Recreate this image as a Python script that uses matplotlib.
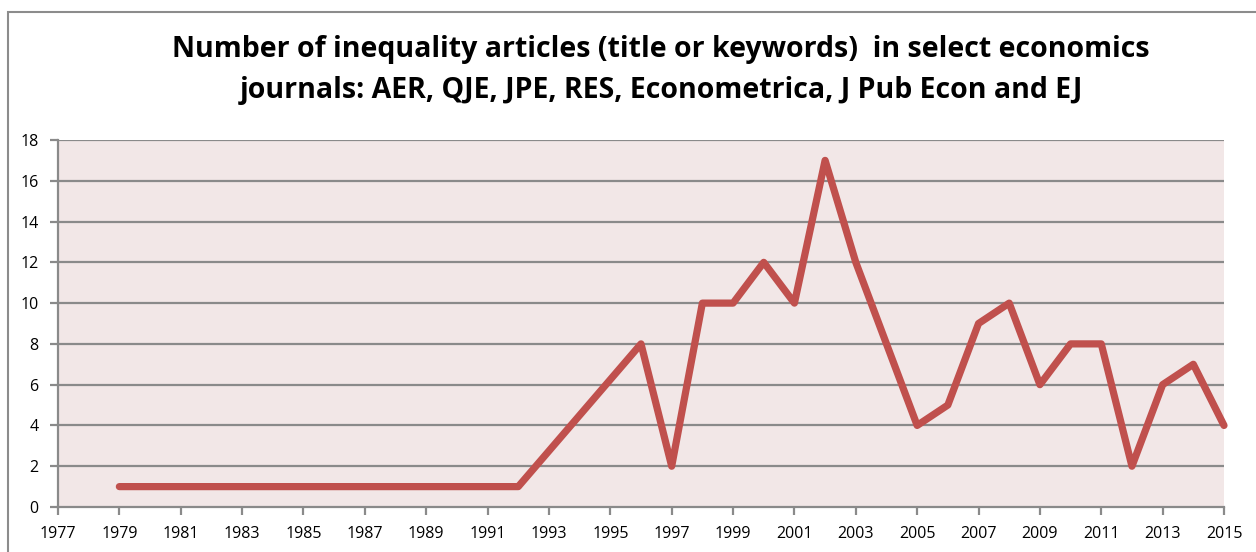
import matplotlib
matplotlib.use("Agg")
import matplotlib.pyplot as plt
from matplotlib.patches import Rectangle

years = [1979, 1980, 1981, 1982, 1983, 1984, 1985, 1986, 1987, 1988, 1989, 1990, 1991, 1992,
         1996, 1997, 1998, 1999, 2000, 2001, 2002, 2003,
         2005, 2006, 2007, 2008, 2009, 2010, 2011, 2012, 2013, 2014, 2015]
articles = [1, 1, 1, 1, 1, 1, 1, 1, 1, 1, 1, 1, 1, 1,
            8, 2, 10, 10, 12, 10, 17, 12,
            4, 5, 9, 10, 6, 8, 8, 2, 6, 7, 4]
x_ticks = list(range(1977, 2016, 2))
y_ticks = list(range(0, 19, 2))
title = ("Number of inequality articles (title or keywords)  in select economics\n"
         "journals: AER, QJE, JPE, RES, Econometrica, J Pub Econ and EJ")

W, H = 1256, 552
fig = plt.figure(figsize=(W / 100, H / 100), dpi=100)
fig.patch.set_facecolor("white")

# outer chart frame
fig.patches.append(Rectangle((8 / W, -0.05), 1.1, (H - 12) / H + 0.05,
                             transform=fig.transFigure, fill=False,
                             edgecolor="#8c8c8c", linewidth=1.5))

left, right, top, bottom = 58, 1224, 140, 507
ax = fig.add_axes([left / W, 1 - bottom / H, (right - left) / W, (bottom - top) / H])
ax.set_facecolor("#f2e7e7")

grid_c = "#8a8a8a"
for y in y_ticks[1:]:
    ax.axhline(y, color=grid_c, linewidth=1.6, zorder=1)

ax.plot(years, articles, color="#c0504d", linewidth=5.2, solid_joinstyle="round",
        solid_capstyle="round", zorder=3, clip_on=False)

ax.set_xlim(1977, 2015)
ax.set_ylim(0, 18)
ax.set_xticks(x_ticks)
ax.set_yticks(y_ticks)
ax.set_xticklabels([str(v) for v in x_ticks])
ax.set_yticklabels([str(v) for v in y_ticks])

for s in ["top", "right"]:
    ax.spines[s].set_visible(False)
for s in ["left", "bottom"]:
    ax.spines[s].set_color(grid_c)
    ax.spines[s].set_linewidth(1.6)
ax.tick_params(axis="both", color=grid_c, width=1.6, length=6, labelsize=11.5,
               labelcolor="black")
ax.tick_params(axis="x", pad=8)
ax.tick_params(axis="y", pad=8)
for lab in ax.get_xticklabels() + ax.get_yticklabels():
    lab.set_family(["Open Sans", "DejaVu Sans"])

fig.text(661 / W, 1 - 70 / H, title, ha="center", va="center", fontsize=20.5,
         fontweight="bold", family=["Open Sans", "DejaVu Sans"], linespacing=1.55)

fig.savefig("out.png", dpi=100)
